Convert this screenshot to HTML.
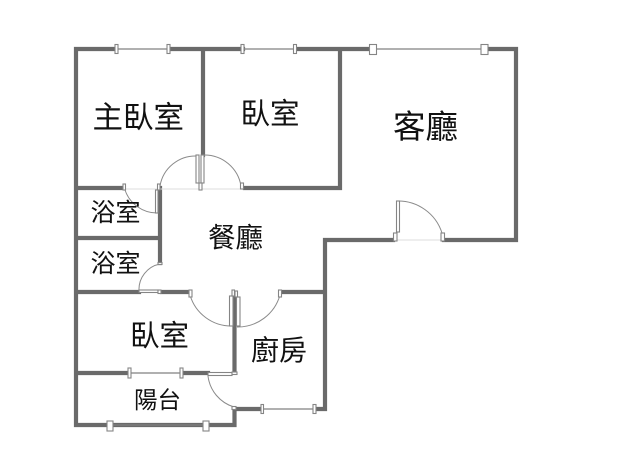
<!DOCTYPE html>
<html><head><meta charset="utf-8"><style>
html,body{margin:0;padding:0;background:#fff;width:640px;height:461px;overflow:hidden}
svg{display:block}
text{font-family:"Liberation Sans","Noto Sans CJK TC",sans-serif;font-weight:400;fill:#111}
.w{stroke:#6a6a6a;stroke-width:4.2;fill:none;stroke-linecap:square}
.a{stroke:#8a8a8a;stroke-width:1;fill:none}
.t{stroke:#808080;stroke-width:1.2;fill:none}
.h{stroke:#ddd;stroke-width:1;fill:none}
.j{fill:#fff;stroke:#858585;stroke-width:1.1}
</style></head><body>
<svg width="640" height="461" viewBox="0 0 640 461" xmlns="http://www.w3.org/2000/svg">
<path class="w" d="M116 49H76V425H107M113 425H203M209 425H234.500V409H260M316 409H325V240H393M444 240H516V49H488M369 49H297M243 49H170M203 49V155M340 49V188H245M76 188H123M160 188V263M76 238H160M76 292H139M162 292H189M282 292H325M234.500 296V372M76 373H128M183 373H208"/>
<path class="t" d="M116 49H170M243 49H297M373 49H485M130 373H182M261 409H314M110 425H206"/>
<path class="h" d="M125 189H241M397 240H442"/>
<path class="a" d="M125 190A34 34 0 0 0 157 213M160 186A36 36 0 0 1 197 156M204 155A37 37 0 0 1 241 186M397 201A46 46 0 0 1 442 233M160 264A26 26 0 0 0 139 291M190 295A43 43 0 0 0 232 326M280 295A44 44 0 0 1 237 327M208 376A37 37 0 0 0 234 407"/>
<g class="j">
<rect x="115" y="44.500" width="3" height="9"/><rect x="167" y="44.500" width="3" height="9"/><rect x="241" y="44.500" width="3" height="9"/><rect x="293.500" y="44.500" width="3" height="9"/>
<rect x="369.500" y="44.500" width="7" height="10"/><rect x="481" y="44.500" width="7" height="10"/>
<rect x="128" y="368" width="3" height="10"/><rect x="180" y="368" width="3" height="10"/>
<rect x="261" y="404.500" width="2.500" height="9"/><rect x="313" y="404.500" width="3" height="9"/>
<rect x="107" y="421" width="6" height="10"/><rect x="203" y="421" width="6" height="10"/>
<rect x="123" y="184" width="2.500" height="6"/><rect x="157.500" y="184" width="2.500" height="6"/>
<rect x="155.500" y="190" width="2.500" height="23"/>
<rect x="196" y="155" width="3" height="28"/><rect x="201" y="155" width="3" height="28"/><rect x="199" y="183" width="3" height="7"/>
<rect x="240.500" y="183" width="3" height="6"/>
<rect x="393.500" y="233" width="3.500" height="8"/><rect x="441" y="233" width="3.500" height="8"/>
<rect x="396.500" y="201" width="3" height="31"/>
<rect x="139" y="290" width="19" height="2.500"/><rect x="158" y="290" width="3" height="3.500"/><rect x="158" y="262.500" width="4" height="2"/>
<rect x="189" y="290" width="3" height="7"/><rect x="278.500" y="290" width="3" height="7"/>
<rect x="229.500" y="296" width="3.500" height="30"/><rect x="236.500" y="297" width="3.500" height="29"/>
<rect x="232" y="290" width="2.500" height="6"/><rect x="235" y="291" width="2.500" height="6"/>
<rect x="208" y="372.500" width="24" height="3"/><rect x="232" y="372" width="5" height="2.500"/><rect x="232" y="406.500" width="4" height="3"/>
</g>
<text x="92.500" y="128" font-size="30.500">主臥室</text>
<text x="240.500" y="124" font-size="29.500">臥室</text>
<text x="393" y="138" font-size="32.500">客廳</text>
<text x="90.500" y="221" font-size="25">浴室</text>
<text x="208" y="247" font-size="27.500">餐廳</text>
<text x="90.500" y="272" font-size="25">浴室</text>
<text x="130" y="346" font-size="29.500">臥室</text>
<text x="251" y="360" font-size="28">廚房</text>
<text x="134" y="408" font-size="23.500">陽台</text>
</svg>
</body></html>
